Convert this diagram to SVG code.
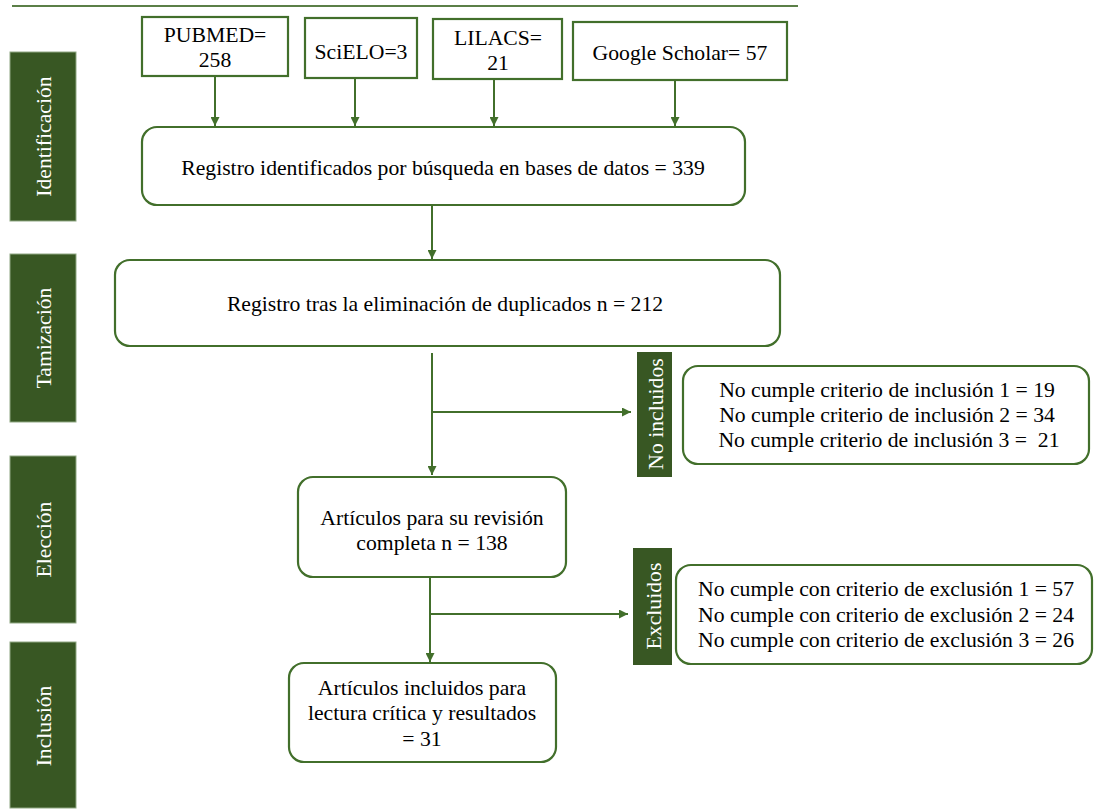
<svg xmlns="http://www.w3.org/2000/svg" width="1097" height="809" viewBox="0 0 1097 809">
<style>
text{font-family:"Liberation Serif","Times New Roman",serif;font-size:21.7px;fill:#000}
.c{text-anchor:middle}
.side{fill:#385723;stroke:#8fa883;stroke-width:1}
.sidet{fill:#fff;text-anchor:middle}
.box{fill:#fff;stroke:#426f2b;stroke-width:2.2}
.rbox{fill:#fff;stroke:#426f2b;stroke-width:2.2}
.lbl{fill:#385723}
.conn line,.conn path{stroke:#426f2b;stroke-width:2;fill:none}
</style>
<defs>
<marker id="ah" viewBox="0 0 10 10" refX="10" refY="5" markerWidth="4.5" markerHeight="4.5" markerUnits="strokeWidth" orient="auto">
<path d="M0,0 L10,5 L0,10 z" fill="#426f2b"/>
</marker>
</defs>
<line x1="12" y1="6" x2="798" y2="6" stroke="#5b7f47" stroke-width="2"/>
<g id="side-identificacion"><rect class="side" x="10" y="52" width="66" height="169"/><text class="sidet" transform="translate(51,136.5) rotate(-90)">Identificación</text></g>
<g id="side-tamizacion"><rect class="side" x="10" y="254" width="66" height="168"/><text class="sidet" transform="translate(51,338) rotate(-90)">Tamización</text></g>
<g id="side-eleccion"><rect class="side" x="10" y="456" width="66" height="167"/><text class="sidet" transform="translate(51,539.5) rotate(-90)">Elección</text></g>
<g id="side-inclusion"><rect class="side" x="10" y="642" width="66" height="166"/><text class="sidet" transform="translate(51,726) rotate(-90)">Inclusión</text></g>
<g id="pubmed"><rect class="box" x="142" y="17" width="146" height="59"/><text class="c" x="215" y="42">PUBMED=</text><text class="c" x="215" y="67">258</text></g>
<g id="scielo"><rect class="box" x="305" y="18" width="112" height="60"/><text class="c" x="361" y="59">SciELO=3</text></g>
<g id="lilacs"><rect class="box" x="433" y="19" width="129" height="60"/><text class="c" x="498" y="45">LILACS=</text><text class="c" x="498" y="70">21</text></g>
<g id="google"><rect class="box" x="573" y="22" width="214" height="58"/><text class="c" x="680" y="60">Google Scholar= 57</text></g>
<g id="identificados"><rect class="rbox" x="142" y="127" width="603" height="78" rx="15"/><text class="c" x="443" y="175">Registro identificados por búsqueda en bases de datos = 339</text></g>
<g id="duplicados"><rect class="rbox" x="115" y="260" width="665" height="86" rx="15"/><text class="c" x="445" y="311">Registro tras la eliminación de duplicados n = 212</text></g>
<g id="no-incluidos-label"><rect class="lbl" x="637" y="352" width="35" height="125"/><text class="sidet" transform="translate(663,414) rotate(-90)">No incluidos</text></g>
<g id="no-incluidos"><rect class="rbox" x="683" y="366" width="406" height="98" rx="15"/><text class="c" x="887" y="397">No cumple criterio de inclusión 1 = 19</text><text class="c" x="887" y="422">No cumple criterio de inclusión 2 = 34</text><text class="c" x="889" y="447" xml:space="preserve" style="white-space:pre">No cumple criterio de inclusión 3 =  21</text></g>
<g id="revision"><rect class="rbox" x="298" y="477" width="268" height="100" rx="15"/><text class="c" x="432" y="525">Artículos para su revisión</text><text class="c" x="432" y="550">completa n = 138</text></g>
<g id="excluidos-label"><rect class="lbl" x="633" y="548" width="39" height="117"/><text class="sidet" transform="translate(661,606) rotate(-90)">Excluidos</text></g>
<g id="excluidos"><rect class="rbox" x="676" y="565" width="416" height="99" rx="15"/><text class="c" x="886" y="596">No cumple con criterio de exclusión 1 = 57</text><text class="c" x="886" y="622">No cumple con criterio de exclusión 2 = 24</text><text class="c" x="886" y="647">No cumple con criterio de exclusión 3 = 26</text></g>
<g id="incluidos"><rect class="rbox" x="289" y="663" width="267" height="99" rx="15"/><text class="c" x="422" y="695">Artículos incluidos para</text><text class="c" x="422" y="720">lectura crítica y resultados</text><text class="c" x="422" y="746">= 31</text></g>
<g id="connectors" class="conn">
<line x1="215" y1="77" x2="215" y2="126" marker-end="url(#ah)"/>
<line x1="355" y1="79" x2="355" y2="126" marker-end="url(#ah)"/>
<line x1="494" y1="80" x2="494" y2="126" marker-end="url(#ah)"/>
<line x1="675" y1="81" x2="675" y2="126" marker-end="url(#ah)"/>
<line x1="432" y1="206" x2="432" y2="259" marker-end="url(#ah)"/>
<line x1="432" y1="353" x2="432" y2="475" marker-end="url(#ah)"/>
<line x1="432" y1="412" x2="631" y2="412" marker-end="url(#ah)"/>
<line x1="430" y1="578" x2="430" y2="662" marker-end="url(#ah)"/>
<line x1="430" y1="614" x2="628" y2="614" marker-end="url(#ah)"/>
</g>
</svg>
